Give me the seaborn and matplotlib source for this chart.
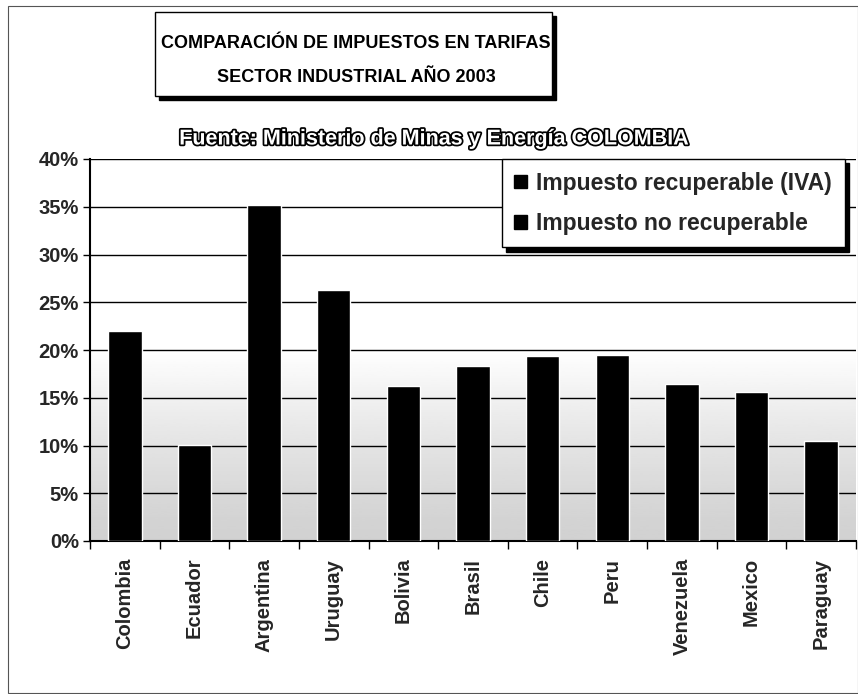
import numpy as np
import pandas as pd
import seaborn as sns
import matplotlib.pyplot as plt
from matplotlib.patches import Rectangle, Patch
import matplotlib.patheffects as pe

#### Data

paises = ['Colombia', 'Ecuador', 'Argentina', 'Uruguay', 'Bolivia', 'Brasil',
          'Chile', 'Peru', 'Venezuela', 'Mexico', 'Paraguay']
impuesto = [22.0, 10.1, 35.2, 26.3, 16.2, 18.3, 19.4, 19.5, 16.4, 15.6, 10.5]
series = ['Impuesto recuperable (IVA)', 'Impuesto no recuperable']
yticks = [0, 5, 10, 15, 20, 25, 30, 35, 40]

#### Plot

sns.set_style("white")
plt.rcParams['font.family'] = ['Liberation Sans', 'DejaVu Sans']
plt.rcParams['font.weight'] = 'bold'

W, H = 858, 694
fig = plt.figure(figsize=(W / 100, H / 100), dpi=100, facecolor="white")
ax = fig.add_axes([90 / W, (H - 541) / H, (856 - 90) / W, (541 - 159) / H])

df = pd.DataFrame({'pais': paises, 'valor': impuesto})

# background gradient (white above ~20%, light gray at bottom)
yy = np.linspace(0, 40, 200)
shade = np.where(yy > 20, 1.0, 0.82 + 0.18 * (yy / 20) ** 1.3)
ax.imshow(shade[:, None], cmap='gray', vmin=0, vmax=1, aspect='auto',
          origin='lower', extent=(-0.5, len(paises) - 0.5, 0, 40), zorder=0)

sns.barplot(data=df, x='pais', y='valor', color='black', width=0.48,
            saturation=1, ax=ax, zorder=3)

ax.set_xlim(-0.5, len(paises) - 0.5)
ax.set_ylim(0, 40)
ax.set_yticks(yticks)
ax.set_yticklabels([f'{t}%' for t in yticks], fontsize=14.5, fontweight='bold')
ax.set_xticks(range(len(paises)))
ax.set_xticklabels(paises, rotation=90, fontsize=14.5, fontweight='bold')
ax.set_xticks(np.arange(-0.5, len(paises), 1), minor=True)
ax.tick_params(axis='x', which='major', length=0, pad=12)
ax.tick_params(axis='x', which='minor', length=6, width=1, color='black',
               direction='out', bottom=True)
ax.tick_params(axis='y', length=5, width=1, color='black', direction='out', left=True, pad=3)
ax.set_xlabel('')
ax.set_ylabel('')
for t in yticks[1:]:
    ax.axhline(t, color='black', lw=1, zorder=2)
for s in ['top', 'right']:
    ax.spines[s].set_visible(False)
for s in ['left', 'bottom']:
    ax.spines[s].set_color('black')
    ax.spines[s].set_linewidth(1.5)

handles = [Patch(facecolor='black', edgecolor='black') for _ in series]
leg = ax.legend(handles, series, loc='upper right', bbox_to_anchor=(0.985, 1.0),
                borderaxespad=0, frameon=True, fancybox=False,
                shadow={'color': 'black', 'alpha': 1, 'ox': 3, 'oy': -3},
                handlelength=0.55, handleheight=0.55, handletextpad=0.4,
                labelspacing=0.75, borderpad=0.55,
                prop={'family': 'Liberation Sans', 'weight': 'bold', 'size': 16.5})
leg.get_frame().set_edgecolor('black')
leg.get_frame().set_linewidth(1)
leg.set_zorder(5)

# outer frame
fig.patches.append(Rectangle((8 / W, 0.002), (W - 8) / W, 1 - 6 / H - 0.002,
                             transform=fig.transFigure, fill=False,
                             edgecolor='#555555', lw=0.8))

# title box with shadow
bx0, bx1, by0, by1 = 155, 552, 12, 96
fig.patches.append(Rectangle(((bx0 + 4) / W, (H - by1 - 4) / H), (bx1 - bx0) / W,
                             (by1 - by0) / H, transform=fig.transFigure,
                             facecolor='black', edgecolor='black'))
fig.patches.append(Rectangle((bx0 / W, (H - by1) / H), (bx1 - bx0) / W,
                             (by1 - by0) / H, transform=fig.transFigure,
                             facecolor='white', edgecolor='black', lw=1))
fig.text(356 / W, 1 - 44 / H, 'COMPARACIÓN DE IMPUESTOS EN TARIFAS',
         ha='center', va='center', fontsize=13, fontweight='bold', color='black')
fig.text(356 / W, 1 - 77 / H, 'SECTOR INDUSTRIAL AÑO 2003',
         ha='center', va='center', fontsize=13, fontweight='bold', color='black')

# subtitle in outlined letters
fig.text(434 / W, 1 - 139 / H, 'Fuente: Ministerio de Minas y Energía COLOMBIA',
         ha='center', va='center', fontsize=15.5, fontweight='bold', color='white',
         path_effects=[pe.withStroke(linewidth=2.5, foreground='black')])

plt.savefig('out.png', dpi=100, facecolor='white')
